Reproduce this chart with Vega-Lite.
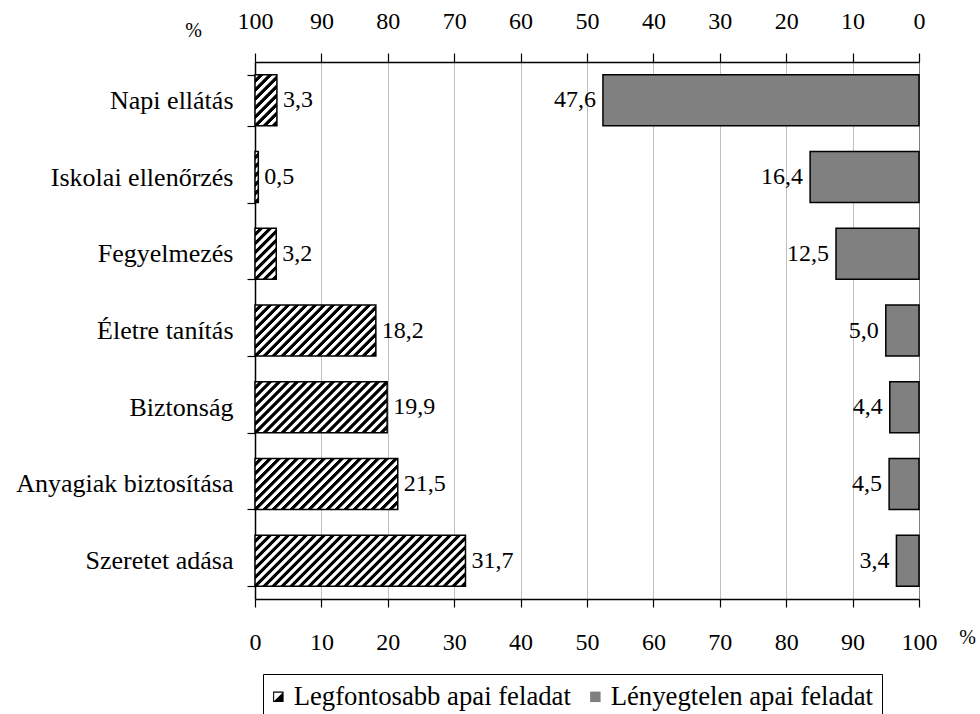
{
  "$schema": "https://vega.github.io/schema/vega-lite/v6.json",
  "width": 664,
  "height": 537,
  "autosize": {"type": "none"},
  "padding": {"left": 255, "top": 62, "right": 61, "bottom": 115},
  "background": "white",
  "config": {
    "view": {"stroke": null},
    "font": "Liberation Serif",
    "locale": {"number": {"decimal": ",", "thousands": " ", "grouping": [3], "currency": ["", ""]}},
    "axis": {
      "labelFont": "Liberation Serif",
      "labelColor": "black",
      "domainColor": "black",
      "tickColor": "black",
      "domainWidth": 1.5,
      "tickWidth": 1.2,
      "titleFont": "Liberation Serif",
      "titleColor": "black",
      "titleFontWeight": "normal"
    }
  },
  "params": [
    {
      "name": "hatch",
      "value": [
        {"offset": 0, "color": "white"}, {"offset": 0.0125, "color": "white"}, {"offset": 0.015625, "color": "black"}, {"offset": 0.028125, "color": "black"},
        {"offset": 0.03125, "color": "white"}, {"offset": 0.04375, "color": "white"}, {"offset": 0.046875, "color": "black"}, {"offset": 0.059375, "color": "black"},
        {"offset": 0.0625, "color": "white"}, {"offset": 0.075, "color": "white"}, {"offset": 0.078125, "color": "black"}, {"offset": 0.090625, "color": "black"},
        {"offset": 0.09375, "color": "white"}, {"offset": 0.10625, "color": "white"}, {"offset": 0.109375, "color": "black"}, {"offset": 0.121875, "color": "black"},
        {"offset": 0.125, "color": "white"}, {"offset": 0.1375, "color": "white"}, {"offset": 0.140625, "color": "black"}, {"offset": 0.153125, "color": "black"},
        {"offset": 0.15625, "color": "white"}, {"offset": 0.16875, "color": "white"}, {"offset": 0.171875, "color": "black"}, {"offset": 0.184375, "color": "black"},
        {"offset": 0.1875, "color": "white"}, {"offset": 0.2, "color": "white"}, {"offset": 0.203125, "color": "black"}, {"offset": 0.215625, "color": "black"},
        {"offset": 0.21875, "color": "white"}, {"offset": 0.23125, "color": "white"}, {"offset": 0.234375, "color": "black"}, {"offset": 0.246875, "color": "black"},
        {"offset": 0.25, "color": "white"}, {"offset": 0.2625, "color": "white"}, {"offset": 0.265625, "color": "black"}, {"offset": 0.278125, "color": "black"},
        {"offset": 0.28125, "color": "white"}, {"offset": 0.29375, "color": "white"}, {"offset": 0.296875, "color": "black"}, {"offset": 0.309375, "color": "black"},
        {"offset": 0.3125, "color": "white"}, {"offset": 0.325, "color": "white"}, {"offset": 0.328125, "color": "black"}, {"offset": 0.340625, "color": "black"},
        {"offset": 0.34375, "color": "white"}, {"offset": 0.35625, "color": "white"}, {"offset": 0.359375, "color": "black"}, {"offset": 0.371875, "color": "black"},
        {"offset": 0.375, "color": "white"}, {"offset": 0.3875, "color": "white"}, {"offset": 0.390625, "color": "black"}, {"offset": 0.403125, "color": "black"},
        {"offset": 0.40625, "color": "white"}, {"offset": 0.41875, "color": "white"}, {"offset": 0.421875, "color": "black"}, {"offset": 0.434375, "color": "black"},
        {"offset": 0.4375, "color": "white"}, {"offset": 0.45, "color": "white"}, {"offset": 0.453125, "color": "black"}, {"offset": 0.465625, "color": "black"},
        {"offset": 0.46875, "color": "white"}, {"offset": 0.48125, "color": "white"}, {"offset": 0.484375, "color": "black"}, {"offset": 0.496875, "color": "black"},
        {"offset": 0.5, "color": "white"}, {"offset": 0.5125, "color": "white"}, {"offset": 0.515625, "color": "black"}, {"offset": 0.528125, "color": "black"},
        {"offset": 0.53125, "color": "white"}, {"offset": 0.54375, "color": "white"}, {"offset": 0.546875, "color": "black"}, {"offset": 0.559375, "color": "black"},
        {"offset": 0.5625, "color": "white"}, {"offset": 0.575, "color": "white"}, {"offset": 0.578125, "color": "black"}, {"offset": 0.590625, "color": "black"},
        {"offset": 0.59375, "color": "white"}, {"offset": 0.60625, "color": "white"}, {"offset": 0.609375, "color": "black"}, {"offset": 0.621875, "color": "black"},
        {"offset": 0.625, "color": "white"}, {"offset": 0.6375, "color": "white"}, {"offset": 0.640625, "color": "black"}, {"offset": 0.653125, "color": "black"},
        {"offset": 0.65625, "color": "white"}, {"offset": 0.66875, "color": "white"}, {"offset": 0.671875, "color": "black"}, {"offset": 0.684375, "color": "black"},
        {"offset": 0.6875, "color": "white"}, {"offset": 0.7, "color": "white"}, {"offset": 0.703125, "color": "black"}, {"offset": 0.715625, "color": "black"},
        {"offset": 0.71875, "color": "white"}, {"offset": 0.73125, "color": "white"}, {"offset": 0.734375, "color": "black"}, {"offset": 0.746875, "color": "black"},
        {"offset": 0.75, "color": "white"}, {"offset": 0.7625, "color": "white"}, {"offset": 0.765625, "color": "black"}, {"offset": 0.778125, "color": "black"},
        {"offset": 0.78125, "color": "white"}, {"offset": 0.79375, "color": "white"}, {"offset": 0.796875, "color": "black"}, {"offset": 0.809375, "color": "black"},
        {"offset": 0.8125, "color": "white"}, {"offset": 0.825, "color": "white"}, {"offset": 0.828125, "color": "black"}, {"offset": 0.840625, "color": "black"},
        {"offset": 0.84375, "color": "white"}, {"offset": 0.85625, "color": "white"}, {"offset": 0.859375, "color": "black"}, {"offset": 0.871875, "color": "black"},
        {"offset": 0.875, "color": "white"}, {"offset": 0.8875, "color": "white"}, {"offset": 0.890625, "color": "black"}, {"offset": 0.903125, "color": "black"},
        {"offset": 0.90625, "color": "white"}, {"offset": 0.91875, "color": "white"}, {"offset": 0.921875, "color": "black"}, {"offset": 0.934375, "color": "black"},
        {"offset": 0.9375, "color": "white"}, {"offset": 0.95, "color": "white"}, {"offset": 0.953125, "color": "black"}, {"offset": 0.965625, "color": "black"},
        {"offset": 0.96875, "color": "white"}, {"offset": 0.98125, "color": "white"}, {"offset": 0.984375, "color": "black"}, {"offset": 0.996875, "color": "black"},
        {"offset": 1, "color": "white"}
      ]
    }
  ],
  "data": {
    "values": [
      {"task": "Napi ellátás", "series": "Legfontosabb apai feladat", "value": 3.3},
      {"task": "Napi ellátás", "series": "Lényegtelen apai feladat", "value": 47.6},
      {"task": "Iskolai ellenőrzés", "series": "Legfontosabb apai feladat", "value": 0.5},
      {"task": "Iskolai ellenőrzés", "series": "Lényegtelen apai feladat", "value": 16.4},
      {"task": "Fegyelmezés", "series": "Legfontosabb apai feladat", "value": 3.2},
      {"task": "Fegyelmezés", "series": "Lényegtelen apai feladat", "value": 12.5},
      {"task": "Életre tanítás", "series": "Legfontosabb apai feladat", "value": 18.2},
      {"task": "Életre tanítás", "series": "Lényegtelen apai feladat", "value": 5.0},
      {"task": "Biztonság", "series": "Legfontosabb apai feladat", "value": 19.9},
      {"task": "Biztonság", "series": "Lényegtelen apai feladat", "value": 4.4},
      {"task": "Anyagiak biztosítása", "series": "Legfontosabb apai feladat", "value": 21.5},
      {"task": "Anyagiak biztosítása", "series": "Lényegtelen apai feladat", "value": 4.5},
      {"task": "Szeretet adása", "series": "Legfontosabb apai feladat", "value": 31.7},
      {"task": "Szeretet adása", "series": "Lényegtelen apai feladat", "value": 3.4}
    ]
  },
  "layer": [
    {
      "transform": [{"filter": "datum.series === 'Legfontosabb apai feladat'"}],
      "mark": {
        "type": "bar",
        "stroke": "black",
        "strokeWidth": 1.5,
        "fill": {"expr": "{gradient: 'linear', x1: 0, y1: 0, x2: 288 * 6.64 * datum.value / (pow(6.64 * datum.value, 2) + 2601), y2: 288 * 51 / (pow(6.64 * datum.value, 2) + 2601), stops: hatch}"}
      },
      "encoding": {
        "y": {
          "field": "task",
          "type": "nominal",
          "sort": null,
          "scale": {
            "domain": ["Napi ellátás", "Iskolai ellenőrzés", "Fegyelmezés", "Életre tanítás", "Biztonság", "Anyagiak biztosítása", "Szeretet adása"],
            "paddingInner": 0.335,
            "paddingOuter": 0.1675
          },
          "axis": {
            "title": null,
            "tickBand": "extent",
            "tickSize": 8,
            "labelPadding": 14,
            "labelFontSize": 26,
            "labelLimit": 400
          }
        },
        "x": {
          "field": "value",
          "type": "quantitative",
          "scale": {"domain": [0, 100], "nice": false},
          "axis": {
            "orient": "bottom",
            "values": [0, 10, 20, 30, 40, 50, 60, 70, 80, 90, 100],
            "grid": true,
            "gridColor": {"condition": {"test": "datum.value === 100", "value": "#808080"}, "value": "#c0c0c0"},
            "gridWidth": 1,
            "tickSize": 8,
            "labelPadding": 23,
            "labelFontSize": 24,
            "labelFlush": false,
            "title": "%",
            "titleFontSize": 20,
            "titleX": 712,
            "titleY": 38,
            "titleAlign": "center",
            "titleBaseline": "middle",
            "titleAngle": 0
          }
        }
      }
    },
    {
      "transform": [{"filter": "datum.series === 'Legfontosabb apai feladat'"}],
      "mark": {"type": "text", "align": "left", "baseline": "middle", "dx": 6, "fontSize": 24, "font": "Liberation Serif", "color": "black"},
      "encoding": {
        "y": {"field": "task", "type": "nominal", "sort": null},
        "x": {"field": "value", "type": "quantitative", "scale": {"domain": [0, 100], "nice": false}, "axis": null},
        "text": {"field": "value", "type": "quantitative", "format": ".1f"}
      }
    },
    {
      "transform": [{"filter": "datum.series === 'Lényegtelen apai feladat'"}],
      "mark": {"type": "bar", "stroke": "black", "strokeWidth": 1.5, "fill": "#808080"},
      "encoding": {
        "y": {"field": "task", "type": "nominal", "sort": null},
        "x": {
          "field": "value",
          "type": "quantitative",
          "scale": {"domain": [0, 100], "nice": false, "reverse": true},
          "axis": {
            "orient": "top",
            "values": [0, 10, 20, 30, 40, 50, 60, 70, 80, 90, 100],
            "grid": false,
            "tickSize": 9,
            "labelPadding": 20,
            "labelFontSize": 24,
            "labelFlush": false,
            "title": "%",
            "titleFontSize": 20,
            "titleX": -62,
            "titleY": -32,
            "titleAlign": "center",
            "titleBaseline": "middle",
            "titleAngle": 0
          }
        }
      }
    },
    {
      "transform": [{"filter": "datum.series === 'Lényegtelen apai feladat'"}],
      "mark": {"type": "text", "align": "right", "baseline": "middle", "dx": -7, "fontSize": 24, "font": "Liberation Serif", "color": "black"},
      "encoding": {
        "y": {"field": "task", "type": "nominal", "sort": null},
        "x": {"field": "value", "type": "quantitative", "scale": {"domain": [0, 100], "nice": false, "reverse": true}, "axis": null},
        "text": {"field": "value", "type": "quantitative", "format": ".1f"}
      }
    },
    {
      "mark": {"type": "point", "filled": true, "opacity": 0, "stroke": "black", "strokeWidth": 1.5},
      "encoding": {
        "y": {"field": "task", "type": "nominal", "sort": null},
        "x": {"field": "value", "type": "quantitative", "scale": {"domain": [0, 100], "nice": false}, "axis": null},
        "fill": {
          "field": "series",
          "type": "nominal",
          "scale": {"domain": ["Legfontosabb apai feladat", "Lényegtelen apai feladat"], "range": ["black", "#808080"]},
          "legend": {
            "title": null,
            "orient": "none",
            "legendX": 8,
            "legendY": 612,
            "direction": "horizontal",
            "strokeColor": "black",
            "fillColor": "white",
            "padding": 9,
            "symbolSize": 110,
            "symbolOpacity": 1,
            "symbolOffset": -7,
            "symbolStrokeColor": "black",
            "symbolStrokeWidth": 1.5,
            "labelFont": "Liberation Serif",
            "labelFontSize": 26.7,
            "labelColor": "black",
            "labelOffset": 2,
            "columnPadding": 16,
            "labelLimit": 400
          }
        },
        "shape": {
          "field": "series",
          "type": "nominal",
          "scale": {
            "domain": ["Legfontosabb apai feladat", "Lényegtelen apai feladat"],
            "range": ["M-1,-1H1V1H-1Z M-0.8,-0.8V0.8H0.8V-0.8Z M0.8,-0.8L0.8,0.8L-0.8,0.8Z", "square"]
          },
          "legend": {
            "title": null,
            "orient": "none",
            "legendX": 8,
            "legendY": 612,
            "direction": "horizontal",
            "strokeColor": "black",
            "fillColor": "white",
            "padding": 9,
            "symbolSize": 110,
            "symbolOpacity": 1,
            "symbolOffset": -7,
            "symbolStrokeColor": "black",
            "symbolStrokeWidth": 1.5,
            "labelFont": "Liberation Serif",
            "labelFontSize": 26.7,
            "labelColor": "black",
            "labelOffset": 2,
            "columnPadding": 16,
            "labelLimit": 400
          }
        }
      }
    }
  ],
  "resolve": {"scale": {"x": "independent"}, "axis": {"x": "independent"}}
}
